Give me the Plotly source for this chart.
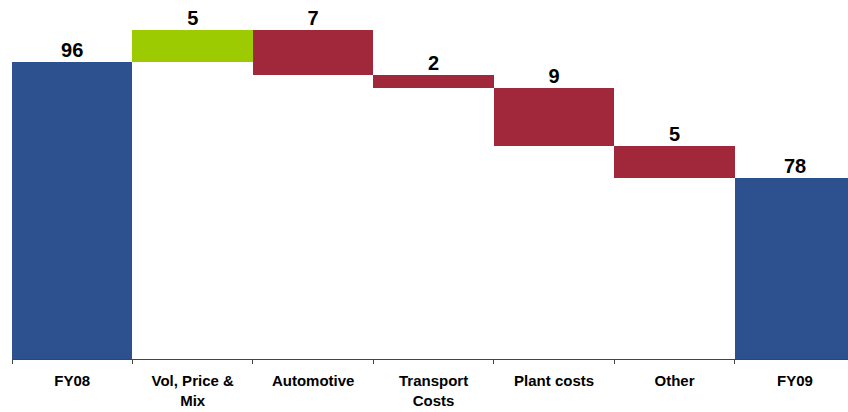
import plotly.graph_objects as go

categories = ["FY08", "Vol, Price &<br>Mix", "Automotive", "Transport<br>Costs", "Plant costs", "Other", "FY09"]
values = [96, 5, -7, -2, -9, -5, 78]
measures = ["absolute", "relative", "relative", "relative", "relative", "relative", "total"]

# label positions: top of each bar
tops = []
run = 0
for v, m in zip(values, measures):
    if m == "absolute":
        run = v
        tops.append(v)
    elif m == "total":
        tops.append(run)
    else:
        prev = run
        run = run + v
        tops.append(max(prev, run))
labels = [str(abs(v)) for v in values]

fig = go.Figure()
fig.add_trace(go.Waterfall(
    x=categories, y=values, measure=measures,
    increasing=dict(marker=dict(color="#9BCB00")),
    decreasing=dict(marker=dict(color="#A0283A")),
    totals=dict(marker=dict(color="#2D508E")),
    connector=dict(visible=False),
    showlegend=False, hoverinfo="skip",
))
fig.add_trace(go.Scatter(
    x=categories, y=tops, mode="text", text=labels,
    textposition="top center",
    textfont=dict(family="Liberation Sans, Arial", size=20, color="black", weight="bold"),
    showlegend=False, cliponaxis=False, hoverinfo="skip",
))
fig.update_layout(
    width=848, height=412,
    margin=dict(l=12, r=0, t=0, b=53),
    plot_bgcolor="white", paper_bgcolor="white",
    waterfallgap=0,
    font=dict(family="Liberation Sans, Arial", color="black"),
)
fig.update_xaxes(
    type="category", range=[-0.5, 6.44],
    showline=True, linecolor="#444444", linewidth=1,
    ticks="outside", tickson="boundaries", ticklen=4, tickcolor="#444444",
    ticklabelstandoff=8,
    tickfont=dict(family="Liberation Sans, Arial", size=15, color="black", weight="bold"),
    showgrid=False, zeroline=False, fixedrange=True,
)
fig.update_yaxes(
    range=[50, 105.6], visible=False, showgrid=False, zeroline=False,
)
fig.write_html("out.html")
